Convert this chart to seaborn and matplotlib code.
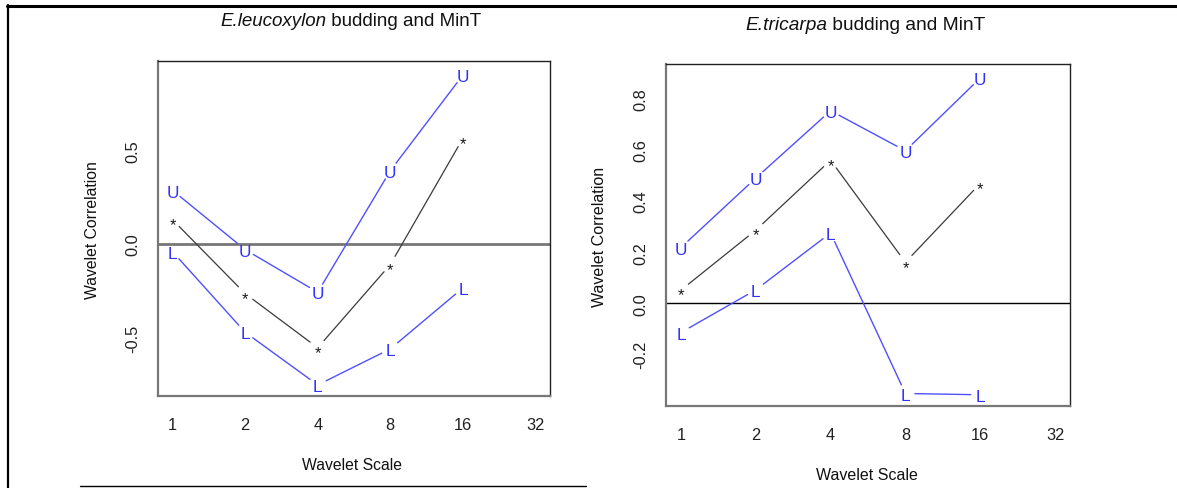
import numpy as np
import pandas as pd
import matplotlib
matplotlib.use('Agg')
import matplotlib.pyplot as plt
from matplotlib.lines import Line2D
import seaborn as sns

# wavelet scales (x axis, log2)
scales = [1, 2, 4, 8, 16]
scale_ticks = [1, 2, 4, 8, 16, 32]

# E.leucoxylon: correlation with upper / lower bounds
leu_corr = [0.130, -0.265, -0.555, -0.110, 0.565]
leu_upper = [0.287, -0.030, -0.258, 0.392, 0.904]
leu_lower = [-0.041, -0.472, -0.754, -0.561, -0.235]

# E.tricarpa
tri_corr = [0.051, 0.286, 0.560, 0.160, 0.469]
tri_upper = [0.218, 0.490, 0.754, 0.597, 0.882]
tri_lower = [-0.115, 0.052, 0.275, -0.354, -0.359]

leu_yticks = [-0.5, 0.0, 0.5]
tri_yticks = [-0.2, 0.0, 0.2, 0.4, 0.6, 0.8]

BLUE_LINE = '#5050ff'
BLUE_TEXT = '#3030ff'
DARK = '#3a3a3a'
W, H = 1177, 489

sns.set_style('white')
plt.rcParams['font.family'] = ['Liberation Sans', 'DejaVu Sans']

fig = plt.figure(figsize=(W / 100, H / 100), dpi=100)


def px_axes(x0, y0, x1, y1):
    # axes box given in image pixels (top-left origin)
    return fig.add_axes([x0 / W, 1 - y1 / H, (x1 - x0) / W, (y1 - y0) / H])


def gapped_segments(ax, xs, ys, gap=9.5):
    # R type="b": lines stop short of each plotted symbol
    pts = ax.transData.transform(np.column_stack([xs, ys]))
    inv = ax.transData.inverted()
    rows = []
    for i in range(len(pts) - 1):
        p0, p1 = pts[i], pts[i + 1]
        d = p1 - p0
        n = np.hypot(*d)
        if n <= 2 * gap:
            continue
        a = inv.transform(p0 + d / n * gap)
        b = inv.transform(p1 - d / n * gap)
        rows.append({'x': a[0], 'y': a[1], 'seg': i})
        rows.append({'x': b[0], 'y': b[1], 'seg': i})
    return pd.DataFrame(rows)


def put_symbols(ax, xs, ys, sym, color, size, centre):
    # centre = height of the glyph middle above baseline, in em
    for x, y in zip(xs, ys):
        ax.annotate(sym, xy=(x, y), xytext=(0, -centre * size), textcoords='offset points',
                    ha='center', va='baseline', fontsize=size, color=color, zorder=4)


def set_limits(ax, ylim):
    ax.set_xscale('log', base=2)
    ax.set_xlim(2 ** -0.2, 2 ** 5.2)
    ax.set_ylim(*ylim)


def draw_panel(ax, corr, upper, lower, ylim, yticks, zero_kw):
    set_limits(ax, ylim)
    ax.axhline(0, **zero_kw)

    for vals, col, lw in [(upper, BLUE_LINE, 1.0), (corr, DARK, 0.9), (lower, BLUE_LINE, 1.0)]:
        seg = gapped_segments(ax, scales, vals)
        sns.lineplot(data=seg, x='x', y='y', units='seg', estimator=None, sort=False,
                     color=col, lw=lw, ax=ax, legend=False)
    set_limits(ax, ylim)

    put_symbols(ax, scales, upper, 'U', BLUE_TEXT, 12.4, 0.358)
    put_symbols(ax, scales, lower, 'L', BLUE_TEXT, 12.4, 0.358)
    put_symbols(ax, scales, corr, '*', '#1a1a1a', 11.8, 0.575)

    ax.set_xticks(scale_ticks)
    ax.set_xticklabels([str(s) for s in scale_ticks])
    ax.minorticks_off()
    ax.set_yticks(yticks)
    ax.set_yticklabels([f'{v:.1f}' for v in yticks])
    ax.set_xlabel('')
    ax.set_ylabel('')
    ax.tick_params(axis='both', direction='out', length=5, width=1.3, color='#777777',
                   labelsize=11.8, labelcolor='#222222')
    ax.tick_params(axis='x', pad=10)
    ax.tick_params(axis='y', pad=8)
    for lbl in ax.get_yticklabels():
        lbl.set_rotation(90)
        lbl.set_va('center')
    for side in ['left', 'bottom']:
        ax.spines[side].set_color('#777777')
        ax.spines[side].set_linewidth(1.6)
    for side in ['top', 'right']:
        ax.spines[side].set_color('#222222')
        ax.spines[side].set_linewidth(1.0)
        ax.spines[side].set_visible(True)


ax1 = px_axes(158, 62, 550, 397)
draw_panel(ax1, leu_corr, leu_upper, leu_lower, (-0.813, 0.979), leu_yticks,
           dict(color='#777777', lw=2.0, zorder=1))

ax2 = px_axes(666, 65, 1070, 407)
draw_panel(ax2, tri_corr, tri_upper, tri_lower, (-0.403, 0.937), tri_yticks,
           dict(color='black', lw=1.0, zorder=1))


def fig_text(x, y, s, **kw):
    return fig.text(x / W, 1 - y / H, s, ha='center', va='center', color='#111111', **kw)


def title(x_left, y, species, rest, size):
    # italic species name followed by plain text
    t1 = fig.text(x_left / W, 1 - y / H, species, ha='left', va='center', style='italic',
                  fontsize=size, color='#111111')
    fig.canvas.draw()
    bb = t1.get_window_extent()
    fig.text(bb.x1 / W, 1 - y / H, ' ' + rest, ha='left', va='center', fontsize=size,
             color='#111111')


title(220, 22, 'E.leucoxylon', 'budding and MinT', 13.5)
title(745, 25, 'E.tricarpa', 'budding and MinT', 13.8)
fig_text(352, 466, 'Wavelet Scale', fontsize=11.3)
fig_text(867, 476, 'Wavelet Scale', fontsize=11.5)
fig_text(93, 230, 'Wavelet Correlation', fontsize=11.3, rotation=90)
fig_text(599, 237, 'Wavelet Correlation', fontsize=11.5, rotation=90)

# page frame lines around the figure
fig.add_artist(Line2D([7 / W, 1.0], [1 - 6.5 / H, 1 - 6.5 / H], color='black', lw=2.2))
fig.add_artist(Line2D([8 / W, 8 / W], [0.0, 1 - 6 / H], color='black', lw=1.6))
fig.add_artist(Line2D([80 / W, 586 / W], [1 - 487 / H, 1 - 487 / H], color='black', lw=1.0))

fig.savefig('out.png', dpi=100)
